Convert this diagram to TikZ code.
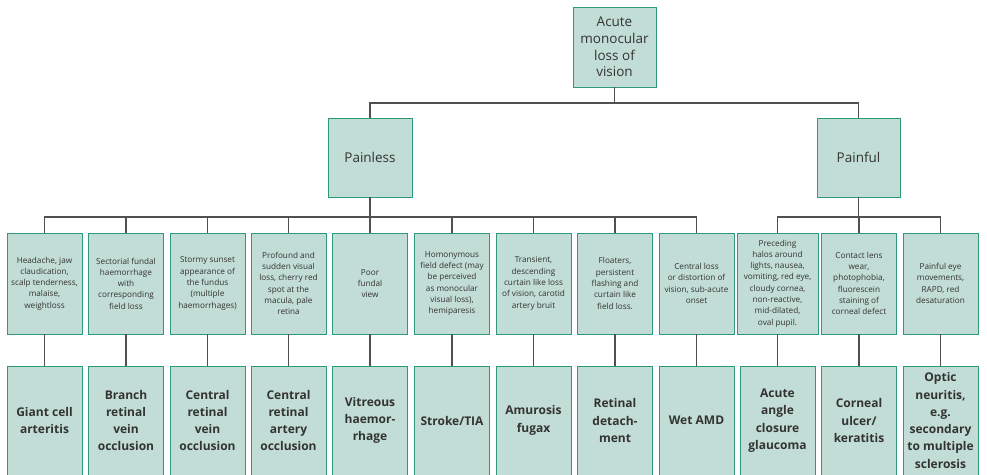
\documentclass[tikz,border=0pt]{standalone}
\usepackage{fontspec}
\setmainfont{Open Sans}
\definecolor{boxfill}{HTML}{C2DDD5}
\definecolor{boxline}{HTML}{2E9A7B}
\definecolor{connc}{HTML}{505050}
\definecolor{txt}{HTML}{333333}
\begin{document}
\begin{tikzpicture}[x=1pt,y=-1pt,
  box/.style={draw=boxline, fill=boxfill, line width=0.9pt, inner sep=0pt, align=center, text=txt},
  topbox/.style={box, minimum width=83pt, minimum height=80pt, font=\fontsize{13.5}{16.7}\selectfont},
  symbox/.style={box, minimum width=75pt, minimum height=101pt, font=\fontsize{8.2}{11.3}\selectfont},
  dxbox/.style={box, minimum width=75pt, minimum height=109pt, font=\bfseries\fontsize{12}{17.3}\selectfont},
  conn/.style={draw=connc, line width=1.2pt}]
\useasboundingbox (0,0) rectangle (987,474);
\clip (0,0) rectangle (987,474);
% top levels
\node[topbox] (root) at (614.5,47) {Acute\\monocular\\loss of\\vision};
\node[topbox, minimum width=84pt, minimum height=79pt] (pl) at (370,157.5) {Painless};
\node[topbox, minimum height=79pt] (pf) at (858.5,157.5) {Painful};
% symptom row
\node[symbox] (s1) at (44.5,283.5) {Headache, jaw\\claudication,\\scalp tenderness,\\malaise,\\weightloss};
\node[symbox] (s2) at (126,283.5) {Sectorial fundal\\haemorrhage\\with\\corresponding\\field loss};
\node[symbox] (s3) at (207.5,283.5) {Stormy sunset\\appearance of\\the fundus\\(multiple\\haemorrhages)};
\node[symbox] (s4) at (288.5,283.5) {Profound and\\sudden visual\\loss, cherry red\\spot at the\\macula, pale\\retina};
\node[symbox] (s5) at (370,283.5) {Poor\\fundal\\view};
\node[symbox] (s6) at (452,283.5) {Homonymous\\field defect (may\\be perceived\\as monocular\\visual loss),\\hemiparesis};
\node[symbox] (s7) at (533.5,283.5) {Transient,\\descending\\curtain like loss\\of vision, carotid\\artery bruit};
\node[symbox] (s8) at (615,283.5) {Floaters,\\persistent\\flashing and\\curtain like\\field loss.};
\node[symbox] (s9) at (696.5,283.5) {Central loss\\or distortion of\\vision, sub-acute\\onset};
\node[symbox, minimum width=81pt] (s10) at (777.5,283.5) {Preceding\\halos around\\lights, nausea,\\vomiting, red eye,\\cloudy cornea,\\non-reactive,\\mid-dilated,\\oval pupil.};
\node[symbox] (s11) at (859,283.5) {Contact lens\\wear,\\photophobia,\\fluorescein\\staining of\\corneal defect};
\node[symbox] (s12) at (940.5,283.5) {Painful eye\\movements,\\RAPD, red\\desaturation};
% diagnosis row
\node[dxbox] (d1) at (44.5,420.5) {Giant cell\\arteritis};
\node[dxbox] (d2) at (126,420.5) {Branch\\retinal\\vein\\occlusion};
\node[dxbox] (d3) at (207.5,420.5) {Central\\retinal\\vein\\occlusion};
\node[dxbox] (d4) at (288.5,420.5) {Central\\retinal\\artery\\occlusion};
\node[dxbox] (d5) at (370,420.5) {Vitreous\\haemor-\\rhage};
\node[dxbox] (d6) at (452,420.5) {Stroke/TIA};
\node[dxbox] (d7) at (533.5,420.5) {Amurosis\\fugax};
\node[dxbox] (d8) at (615,420.5) {Retinal\\detach-\\ment};
\node[dxbox] (d9) at (696.5,420.5) {Wet AMD};
\node[dxbox] (d10) at (777.5,420.5) {Acute\\angle\\closure\\glaucoma};
\node[dxbox] (d11) at (859,420.5) {Corneal\\ulcer/\\keratitis};
\node[dxbox] (d12) at (940.5,420.5) {Optic\\neuritis,\\e.g.\\secondary\\to multiple\\sclerosis};
% connectors
\coordinate (bus0) at (0,103);
\coordinate (bus1) at (0,217);
\draw[conn] (root.south) -- (root.south |- bus0);
\draw[conn] (pl.north) |- (pf.north |- bus0) -- (pf.north);
\draw[conn] (pl.south) -- (pl.south |- bus1);
\draw[conn] (pf.south) -- (pf.south |- bus1);
\draw[conn] (s1.north) |- (s9.north |- bus1) -- (s9.north);
\foreach \i in {2,...,8} {\draw[conn] (s\i.north) -- (s\i.north |- bus1);}
\draw[conn] (s10.north) |- (s12.north |- bus1) -- (s12.north);
\draw[conn] (s11.north) -- (s11.north |- bus1);
\foreach \i in {1,...,12} {\draw[conn] (s\i.south) -- (d\i.north);}
\end{tikzpicture}
\end{document}
